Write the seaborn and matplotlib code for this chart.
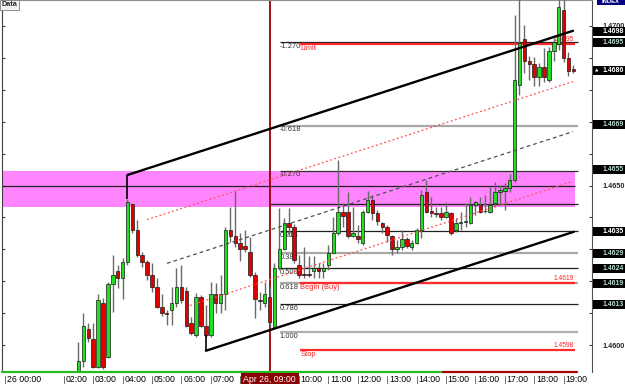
import numpy as np
import pandas as pd
import matplotlib
matplotlib.use("Agg")
import matplotlib.pyplot as plt
import matplotlib.transforms as mtransforms
from matplotlib.patches import Rectangle
import seaborn as sns

# ---------------- data ----------------
bar_times = pd.date_range("2010-04-26 02:30", periods=102, freq="10min")

opens = [1.45875, 1.45950, 1.46050, 1.46019, 1.45931, 1.46132, 1.45962, 1.46191, 1.46232, 1.46210,
         1.46260, 1.46442, 1.46361, 1.46282, 1.46260, 1.46219, 1.46182, 1.46119, 1.46099, 1.46110,
         1.46132, 1.46182, 1.46169, 1.46069, 1.46031, 1.46150, 1.46060, 1.46031, 1.46160, 1.46132,
         1.46160, 1.46361, 1.46342, 1.46320, 1.46310, 1.46292, 1.46219, 1.46141, 1.46132, 1.46150,
         1.46056, 1.46241, 1.46301, 1.46382, 1.46370, 1.46251, 1.46223, 1.46223, 1.46232, 1.46241,
         1.46232, 1.46251, 1.46288, 1.46351, 1.46417, 1.46417, 1.46342, 1.46342, 1.46320, 1.46417,
         1.46455, 1.46415, 1.46382, 1.46370, 1.46342, 1.46301, 1.46307, 1.46332, 1.46307, 1.46320,
         1.46361, 1.46480, 1.46420, 1.46414, 1.46414, 1.46401, 1.46414, 1.46361, 1.46382, 1.46386,
         1.46382, 1.46439, 1.46439, 1.46420, 1.46417, 1.46445, 1.46480, 1.46483, 1.46492, 1.46517,
         1.46815, 1.46959, 1.46890, 1.46881, 1.46840, 1.46871, 1.46831, 1.46922, 1.46944, 1.47050,
         1.46900, 1.46865]
closes = [1.45950, 1.46060, 1.46022, 1.45931, 1.46141, 1.45931, 1.46191, 1.46219, 1.46210, 1.46260,
          1.46448, 1.46361, 1.46282, 1.46260, 1.46219, 1.46182, 1.46119, 1.46100, 1.46097, 1.46132,
          1.46182, 1.46141, 1.46060, 1.46038, 1.46150, 1.46060, 1.46031, 1.46160, 1.46132, 1.46160,
          1.46361, 1.46342, 1.46320, 1.46301, 1.46301, 1.46219, 1.46144, 1.46138, 1.46160, 1.46072,
          1.46241, 1.46301, 1.46382, 1.46370, 1.46266, 1.46219, 1.46219, 1.46221, 1.46241, 1.46232,
          1.46241, 1.46288, 1.46351, 1.46417, 1.46404, 1.46342, 1.46351, 1.46332, 1.46417, 1.46455,
          1.46414, 1.46389, 1.46370, 1.46345, 1.46301, 1.46307, 1.46332, 1.46310, 1.46320, 1.46361,
          1.46470, 1.46417, 1.46414, 1.46412, 1.46401, 1.46417, 1.46351, 1.46382, 1.46386, 1.46388,
          1.46439, 1.46448, 1.46417, 1.46421, 1.46439, 1.46480, 1.46486, 1.46492, 1.46517, 1.46831,
          1.46947, 1.46890, 1.46881, 1.46840, 1.46871, 1.46840, 1.46922, 1.46950, 1.47060, 1.46900,
          1.46859, 1.46860]
highs = [1.46009, 1.46100, 1.46069, 1.46069, 1.46160, 1.46147, 1.46197, 1.46282, 1.46251, 1.46273,
         1.46458, 1.46445, 1.46392, 1.46292, 1.46266, 1.46257, 1.46210, 1.46160, 1.46110, 1.46182,
         1.46241, 1.46251, 1.46182, 1.46088, 1.46163, 1.46157, 1.46125, 1.46197, 1.46194, 1.46219,
         1.46370, 1.46433, 1.46483, 1.46351, 1.46361, 1.46339, 1.46229, 1.46166, 1.46197, 1.46182,
         1.46257, 1.46429, 1.46398, 1.46429, 1.46379, 1.46282, 1.46307, 1.46279, 1.46279, 1.46257,
         1.46257, 1.46313, 1.46401, 1.46580, 1.46445, 1.46480, 1.46433, 1.46376, 1.46423, 1.46483,
         1.46470, 1.46423, 1.46386, 1.46376, 1.46345, 1.46329, 1.46361, 1.46339, 1.46329, 1.46367,
         1.46486, 1.46517, 1.46464, 1.46433, 1.46433, 1.46448, 1.46417, 1.46398, 1.46417, 1.46445,
         1.46464, 1.46451, 1.46464, 1.46470, 1.46495, 1.46511, 1.46502, 1.46508, 1.46536, 1.47034,
         1.47097, 1.47003, 1.46906, 1.46903, 1.46884, 1.46931, 1.46934, 1.46962, 1.47113, 1.47113,
         1.46918, 1.46878]
lows = [1.45853, 1.45931, 1.46009, 1.45928, 1.45928, 1.45925, 1.45959, 1.46103, 1.46179, 1.46144,
        1.46251, 1.46351, 1.46276, 1.46245, 1.46204, 1.46166, 1.46116, 1.46091, 1.46063, 1.46063,
        1.46119, 1.46132, 1.46056, 1.46031, 1.46025, 1.46056, 1.46025, 1.46025, 1.46100, 1.46100,
        1.46110, 1.46323, 1.46307, 1.46263, 1.46292, 1.46213, 1.46085, 1.46110, 1.46119, 1.46056,
        1.46053, 1.46235, 1.46298, 1.46342, 1.46257, 1.46210, 1.46210, 1.46213, 1.46210, 1.46210,
        1.46210, 1.46235, 1.46288, 1.46345, 1.46370, 1.46335, 1.46339, 1.46320, 1.46313, 1.46414,
        1.46392, 1.46376, 1.46351, 1.46323, 1.46282, 1.46288, 1.46298, 1.46304, 1.46298, 1.46317,
        1.46335, 1.46414, 1.46401, 1.46401, 1.46392, 1.46398, 1.46345, 1.46354, 1.46361, 1.46370,
        1.46379, 1.46408, 1.46414, 1.46414, 1.46414, 1.46433, 1.46439, 1.46423, 1.46480, 1.46511,
        1.46784, 1.46853, 1.46831, 1.46812, 1.46812, 1.46824, 1.46824, 1.46890, 1.46925, 1.46887,
        1.46843, 1.46853]

# channel (time in hours of Apr 26, price)
channel_lines = ["top", "top", "bottom", "bottom"]
channel_t = [4.1667, 19.32, 6.8333, 19.35]
channel_p = [1.46533, 1.46985, 1.45982, 1.46355]
median_t = [5.51, 19.32]
median_p = [1.46256, 1.46669]
quarter_up_t = [4.83, 19.32]
quarter_up_p = [1.46393, 1.46826]
quarter_lo_t = [6.29, 19.32]
quarter_lo_p = [1.46124, 1.46513]
connector_t = [4.1667, 6.8333]
connector_from = [1.46533, 1.45982]
connector_to = [1.46458, 1.46031]

# fibonacci levels
fib_labels = ["-1.270", "-0.618", "-0.270", "", "0.214", "0.382", "0.500", "0.618", "0.786", "1.000"]
fib_prices = [1.46950, 1.46687, 1.46547, 1.46442, 1.46357, 1.46288, 1.46241, 1.46194, 1.46127, 1.46041]
fib_colors = ["#202020", "#a8a8a8", "#303030", "#202020", "#202020", "#a8a8a8", "#202020", "#a8a8a8", "#202020", "#b0b0b0"]

# trade lines
trade_labels = ["Limit", "Begin (Buy)", "Stop"]
trade_prices = [1.46944, 1.46194, 1.45984]
trade_tags = ["1.4695", "1.4619", "1.4598"]

zone_low, zone_high = 1.46433, 1.46545
hline_price = 1.4650
marker_hour = 9.0

axis_labels = ["1.4700", "1.4650", "1.4600"]
axis_label_prices = [1.4700, 1.4650, 1.4600]
box_labels = ["1.4698", "1.4695", "1.4686", "1.4669", "1.4655", "1.4635", "1.4629", "1.4624", "1.4619", "1.4613"]
box_prices = [1.46984, 1.46948, 1.46860, 1.46690, 1.46551, 1.46357, 1.46288, 1.46240, 1.46192, 1.46127]
box_bright = [True, False, True, False, False, True, False, False, False, False]

time_hours = [0, 2, 3, 4, 5, 6, 7, 10, 11, 12, 13, 14, 15, 16, 17, 18, 19]
time_labels = ["26 00:00", "02:00", "03:00", "04:00", "05:00", "06:00", "07:00",
               "10:00", "11:00", "12:00", "13:00", "14:00", "15:00", "16:00", "17:00", "18:00", "19:00"]

# ---------------- figure ----------------
sns.set_theme(style="white")
plt.rcParams["font.family"] = ["Liberation Sans", "DejaVu Sans"]

W, H = 625, 384
fig = plt.figure(figsize=(W / 100, H / 100), dpi=100)
fig.patch.set_facecolor("white")
ax = fig.add_axes([2 / W, 12 / H, 590 / W, 372 / H])
ax.set_facecolor("white")

hours = np.asarray((bar_times - bar_times[0].normalize()) / pd.Timedelta(hours=1), dtype=float)
o = np.array(opens); c = np.array(closes); hi = np.array(highs); lo = np.array(lows)

x0, x1 = -0.102, 19.966
y0, y1 = 1.459154, 1.470815
line_end = 19.39

# zone
ax.add_patch(Rectangle((x0, zone_low), line_end - x0, zone_high - zone_low,
                       facecolor="#ff85ff", edgecolor="none", zorder=0.5))
ax.hlines(hline_price, x0, line_end, color="#202020", lw=0.9, zorder=1)

# vertical red marker
ax.axvline(marker_hour, color="#990000", lw=1.3, zorder=1.2)

# fib lines
for lab, p, col in zip(fib_labels, fib_prices, fib_colors):
    start = 9.0 if lab == "" else 9.35
    lw = 1.6 if col.startswith("#a") or col.startswith("#b") else 0.9
    ax.hlines(p, start, 19.49, color=col, lw=lw, zorder=1.1)
    if lab:
        ax.text(9.35, p - 0.00002, lab, fontsize=5.4, color="#333333", va="top", ha="left", zorder=1.3)

# trade lines
for lab, p, tag in zip(trade_labels, trade_prices, trade_tags):
    ax.hlines(p, 10.03, line_end, color="#ff2a2a", lw=1.6, zorder=1.4)
    ax.text(10.05, p - 0.00003, lab, fontsize=5.4, color="#ff2020", va="top", ha="left", zorder=1.5)
    ax.text(line_end - 0.05, p + 0.00002, tag, fontsize=4.8, color="#ff2020", va="bottom", ha="right", zorder=1.5)

# candles
up = c >= o
colors = np.where(up, "#22dd22", "#e00000")
body_low = np.minimum(o, c)
body_h = np.maximum(np.abs(c - o), 0.000015)
ax.vlines(hours, np.minimum(lo, body_low), np.maximum(hi, np.maximum(o, c)), color="#6a6a6a", lw=1.0, zorder=3)
ax.bar(hours, body_h, bottom=body_low, width=0.12, color=colors, edgecolor="#1a1a1a", linewidth=0.5, zorder=4)

# channel lines
chan = pd.DataFrame({"t": channel_t, "price": channel_p, "line": channel_lines})
sns.lineplot(data=chan, x="t", y="price", units="line", estimator=None, sort=False,
             color="black", lw=1.7, ax=ax, legend=False, zorder=5)
ax.vlines(connector_t, connector_from, connector_to, color="black", lw=1.2, zorder=5)
ax.plot(median_t, median_p, color="#505050", lw=0.9, dashes=(3, 2.5), zorder=5)
ax.plot(quarter_up_t, quarter_up_p, color="#ff5050", lw=0.9, dashes=(1.5, 2), zorder=5)
ax.plot(quarter_lo_t, quarter_lo_p, color="#ff5050", lw=0.9, dashes=(1.5, 2), zorder=5)

ax.set_xlim(x0, x1)
ax.set_ylim(y0, y1)
ax.set_xlabel("")
ax.set_ylabel("")

# axes styling
for side in ["left", "right", "top"]:
    ax.spines[side].set_visible(True)
    ax.spines[side].set_linewidth(0.8)
ax.spines["left"].set_color("#404040")
ax.spines["right"].set_color("#505050")
ax.spines["top"].set_color("#909090")
ax.spines["bottom"].set_visible(False)

yt = np.round(np.arange(1.4600, 1.47005, 0.001), 4)
ax.set_yticks(yt)
ax.set_yticklabels([axis_labels[axis_label_prices.index(v)] if v in axis_label_prices else "" for v in yt])
ax.yaxis.tick_right()
ax.tick_params(axis="y", which="both", direction="in", length=2.5, width=0.8, color="#404040",
               left=True, right=True, labelleft=False, labelright=True, labelsize=5.2, pad=7.5)
for t in ax.get_yticklabels():
    t.set_fontweight("bold")
ax.set_xticks([])

# right-side boxes
trans_r = mtransforms.blended_transform_factory(ax.transAxes, ax.transData)
bh = 0.00028
for lab, p, bright in zip(box_labels, box_prices, box_bright):
    ax.add_patch(Rectangle((1.0017, p - bh / 2), 0.054, bh, transform=trans_r, facecolor="black",
                           edgecolor="none", clip_on=False, zorder=6))
    ax.text(1.0355, p, lab, transform=trans_r, fontsize=5.0, fontweight="bold",
            color="white" if bright else "#b4d8d0", ha="center", va="center", clip_on=False, zorder=7)
ax.text(1.0085, 1.4686, "\u25b2", transform=trans_r, fontsize=3.2, color="white", ha="center",
        va="center", clip_on=False, zorder=7, family="DejaVu Sans")

# time axis
trans_b = mtransforms.blended_transform_factory(ax.transData, ax.transAxes)
ax.plot([x0, 14.9], [0.0, 0.0], transform=trans_b, color="#22bb22", lw=1.6, clip_on=False, zorder=6)
ax.plot([14.9, 19.46], [0.0, 0.0], transform=trans_b, color="#aa0000", lw=1.6, clip_on=False, zorder=6)
for h in time_hours + [8]:
    ax.plot([h, h], [-0.01, -0.033], transform=trans_b, color="#707070", lw=0.7, clip_on=False)
for h, lab in zip(time_hours, time_labels):
    ax.text(h + 0.06, -0.02, lab, transform=trans_b, fontsize=6.3, color="black",
            ha="left", va="center", clip_on=False)
ax.text(marker_hour, -0.021, "Apr 26, 09:00", transform=trans_b, fontsize=6.3, color="white",
        ha="center", va="center", clip_on=False, zorder=8,
        bbox=dict(boxstyle="square,pad=0.3", facecolor="#8b0000", edgecolor="none"))

# top-left / top-right tags
fig.text(1.5 / W, 1 - 5 / H, "Data", fontsize=5.2, fontweight="bold", ha="left", va="center",
         bbox=dict(boxstyle="square,pad=0.2", facecolor="#f0f0f0", edgecolor="#808080", lw=0.6))
fig.patches.append(Rectangle((597 / W, 1 - 5 / H), 28 / W, 5 / H, transform=fig.transFigure,
                             facecolor="#000080", edgecolor="none"))
fig.text(611 / W, 1 - 1.5 / H, "INDEX", fontsize=4.2, color="white", fontweight="bold",
         ha="center", va="center")

fig.savefig("out.png", dpi=100, facecolor="white")
